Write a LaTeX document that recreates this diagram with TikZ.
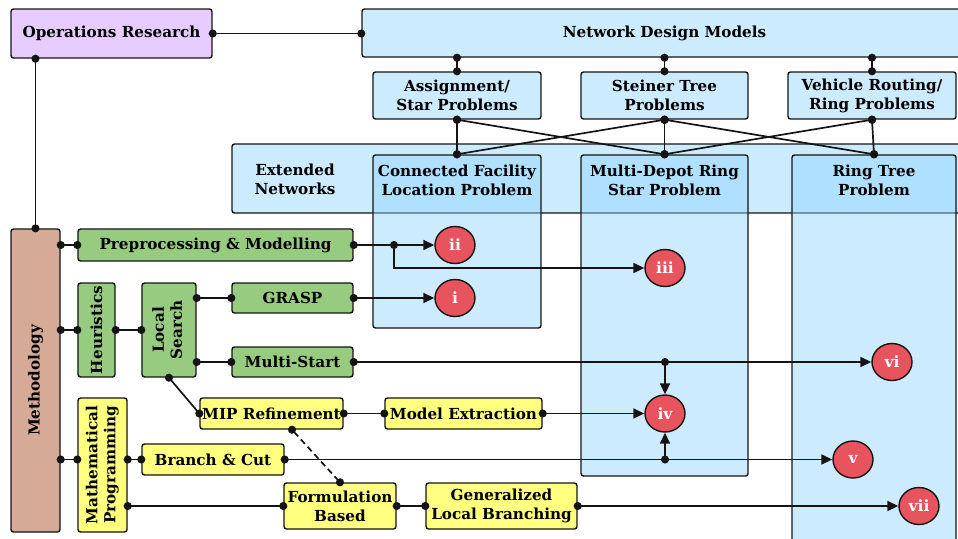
\documentclass[tikz,border=0pt]{standalone}
\usepackage{fontspec}
\usepackage{graphicx}
\setmainfont{DejaVu Serif}
\usetikzlibrary{arrows.meta,shapes.geometric}

\definecolor{orpurple}{RGB}{230,204,255}
\definecolor{netblue}{RGB}{204,235,255}
\definecolor{deepblue}{RGB}{142,211,255}
\definecolor{methbrown}{RGB}{213,170,150}
\definecolor{heurgreen}{RGB}{151,203,127}
\definecolor{mpyellow}{RGB}{255,255,128}
\definecolor{markred}{RGB}{232,84,94}
\definecolor{edgeblack}{RGB}{20,20,20}

\begin{document}
\begin{tikzpicture}[x=1pt,y=-1pt,
  labelfont/.style={font=\bfseries\fontsize{15.2}{19}\selectfont},
  box/.style={draw=edgeblack, line width=1.4pt, rounded corners=2.5pt,
    inner sep=0pt, align=center, labelfont},
  sz/.style 2 args={minimum width=#1pt, minimum height=#2pt},
  netbox/.style={box, fill=netblue},
  probbox/.style={box, fill=deepblue, fill opacity=0.45, text opacity=1},
  greenbox/.style={box, fill=heurgreen},
  yellowbox/.style={box, fill=mpyellow},
  title/.style={align=center, labelfont, inner sep=0pt},
  resultmark/.style={ellipse, draw=edgeblack, line width=1.4pt, fill=markred,
    text=white, inner sep=0pt, minimum width=40pt, minimum height=37pt,
    font=\bfseries\fontsize{15.5}{18}\selectfont},
  link/.style={draw=edgeblack, line width=1.7pt,
    {Circle[length=8pt]}-{Circle[length=8pt]},
    shorten <=-4pt, shorten >=-4pt},
  feed/.style={draw=edgeblack, line width=1.7pt,
    {Circle[length=8pt]}-{Triangle[length=11pt,width=10pt]},
    shorten <=-4pt},
]
\useasboundingbox (0,0) rectangle (958,538);
\clip (0,0) rectangle (958,538);

% ---- network design side
\node[box, fill=orpurple, sz={201}{49}] (or) at (111.5,33.5) {Operations Research};
\node[netbox, sz={605}{48}] (ndm) at (664.5,33) {Network Design Models};
\node[netbox, sz={168}{47}] (asg) at (457,95.5) {Assignment/\\Star Problems};
\node[netbox, sz={167}{47}] (stp) at (664.5,95.5) {Steiner Tree\\Problems};
\node[netbox, sz={168}{47}] (vrp) at (872,95.5) {Vehicle Routing/\\Ring Problems};

\node[netbox, sz={738}{69}] (ext) at (601,178.5) {};
\node[title] (extlabel) at (295,179) {Extended\\Networks};

\node[probbox, sz={168}{173}] (cflp) at (457,241.5) {};
\node[probbox, sz={167}{321}] (mdrs) at (664.5,315.5) {};
\node[probbox, sz={164}{395}] (rtp) at (874,352.5) {};
\node[title] (cflptitle) at (457,180) {Connected Facility\\Location Problem};
\node[title] (mdrstitle) at (664.5,180) {Multi-Depot Ring\\Star Problem};
\node[title] (rtptitle) at (874,180) {Ring Tree\\Problem};

% ---- methodology side
\node[box, fill=methbrown, sz={49}{303}] (meth) at (35.5,380.5) {\rotatebox{90}{Methodology}};
\node[greenbox, sz={275}{32}] (prep) at (215.5,245) {Preprocessing \& Modelling};
\node[greenbox, sz={37}{94}] (heur) at (96.5,330) {\rotatebox{90}{Heuristics}};
\node[greenbox, sz={54}{94}] (ls) at (169,330) {\rotatebox{90}{\begin{tabular}{@{}c@{}}Local\\[-1pt]Search\end{tabular}}};
\node[greenbox, sz={121}{30}] (grasp) at (292.5,298) {GRASP};
\node[greenbox, sz={121}{30}] (ms) at (292.5,362) {Multi-Start};
\node[yellowbox, sz={143}{31}] (mip) at (271.5,413.5) {MIP Refinement};
\node[yellowbox, sz={157}{31}] (mex) at (463.5,413.5) {Model Extraction};
\node[yellowbox, sz={49}{134}] (mp) at (102.5,465) {\rotatebox{90}{\begin{tabular}{@{}c@{}}Mathematical\\[-1pt]Programming\end{tabular}}};
\node[yellowbox, sz={142}{31}] (bc) at (213,459.5) {Branch \& Cut};
\node[yellowbox, sz={112}{46}] (fb) at (340,506) {Formulation\\Based};
\node[yellowbox, sz={151}{46}] (glb) at (501.5,506) {Generalized\\Local Branching};

% ---- result markers
\node[resultmark] (ii) at (455,245) {ii};
\node[resultmark] (i) at (455,298) {i};
\node[resultmark] (iii) at (665,268) {iii};
\node[resultmark] (iv) at (665,413.5) {iv};
\node[resultmark] (vi) at (892,362) {vi};
\node[resultmark] (v) at (853,459.5) {v};
\node[resultmark] (vii) at (919,506) {vii};

% ---- junctions
\coordinate (prepj) at (394,245);
\coordinate (msj) at (iv.north |- ms.east);
\coordinate (bcj) at (iv.south |- bc.east);
\coordinate (mipfoot) at ([xshift=20.5pt]mip.south);

% ---- hierarchy of models
\draw[link] (or.east) -- (or.east -| ndm.west);
\draw[link] (asg.north |- ndm.south) -- (asg.north);
\draw[link] (stp.north |- ndm.south) -- (stp.north);
\draw[link] (vrp.north |- ndm.south) -- (vrp.north);
\draw[link] (asg.south) -- (cflp.north);
\draw[link] (asg.south) -- (mdrs.north);
\draw[link] (stp.south) -- (cflp.north);
\draw[link] (stp.south) -- (mdrs.north);
\draw[link] (stp.south) -- (rtp.north);
\draw[link] (vrp.south) -- (mdrs.north);
\draw[link] (vrp.south) -- (rtp.north);

% ---- methodology tree
\draw[link] (meth.north |- or.south) -- (meth.north);
\draw[link] (meth.east |- prep.west) -- (prep.west);
\draw[link] (meth.east |- heur.west) -- (heur.west);
\draw[link] (meth.east |- bc.west) -- (mp.west |- bc.west);
\draw[link] (heur.east) -- (ls.west);
\draw[link] (ls.east |- grasp.west) -- (grasp.west);
\draw[link] (ls.east |- ms.west) -- (ms.west);
\draw[link] (ls.south) -- (mip.west);
\draw[link] (mip.east) -- (mex.west);
\draw[link] (mp.east |- bc.west) -- (bc.west);
\draw[link] (mp.east |- fb.west) -- (fb.west);
\draw[link] (fb.east) -- (glb.west);
\draw[link, dash pattern=on 6pt off 4pt] (mipfoot) -- (fb.north);

% ---- contributions
\draw[feed] (prep.east) -- (ii.west);
\draw[feed] (prepj) |- (iii.west);
\draw[feed] (grasp.east) -- (i.west);
\draw[feed] (ms.east) -- (vi.west);
\draw[feed] (msj) -- (iv.north);
\draw[feed] (mex.east) -- (iv.west);
\draw[feed] (bc.east) -- (v.west);
\draw[feed] (bcj) -- (iv.south);
\draw[feed] (glb.east) -- (vii.west);
\end{tikzpicture}
\end{document}
